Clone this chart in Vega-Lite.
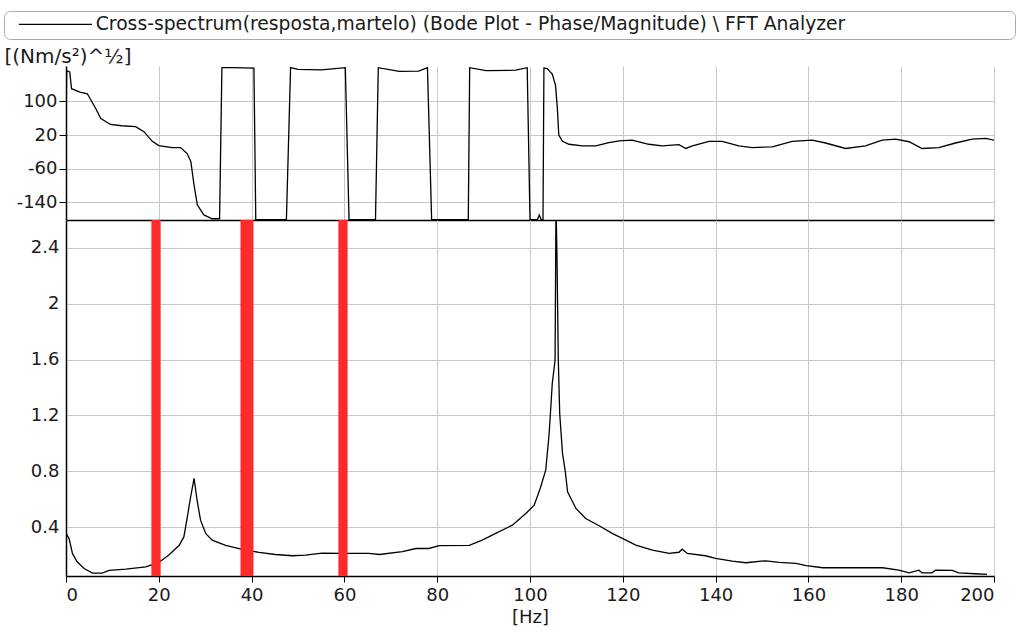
{
  "$schema": "https://vega.github.io/schema/vega-lite/v6.json",
  "padding": {"left": 3, "top": 10, "right": 2, "bottom": 4},
  "background": "white",
  "spacing": 0,
  "config": {
    "font": "DejaVu Sans",
    "view": {"stroke": null},
    "axis": {
      "labelFont": "DejaVu Sans",
      "titleFont": "DejaVu Sans",
      "labelFontSize": 18,
      "labelColor": "#1a1a1a",
      "titleColor": "#1a1a1a",
      "titleFontSize": 18,
      "titleFontWeight": "normal",
      "gridColor": "#c8c8c8",
      "gridWidth": 1,
      "domainColor": "#000000",
      "domainWidth": 1.5,
      "tickColor": "#000000"
    },
    "legend": {"labelFont": "DejaVu Sans"}
  },
  "datasets": {
    "phase": [
      {"hz": 0, "deg": 43}, {"hz": 0.15, "deg": 173}, {"hz": 0.8, "deg": 170}, {"hz": 1.2, "deg": 130},
      {"hz": 3, "deg": 122}, {"hz": 4.6, "deg": 118}, {"hz": 6.4, "deg": 83}, {"hz": 7.5, "deg": 59},
      {"hz": 9.6, "deg": 45}, {"hz": 12, "deg": 42}, {"hz": 15, "deg": 40}, {"hz": 16.8, "deg": 28},
      {"hz": 18.6, "deg": 5}, {"hz": 20, "deg": -5}, {"hz": 22.9, "deg": -10}, {"hz": 24.7, "deg": -10},
      {"hz": 26.1, "deg": -24}, {"hz": 26.9, "deg": -43}, {"hz": 27.6, "deg": -99}, {"hz": 28.3, "deg": -146},
      {"hz": 29.7, "deg": -170}, {"hz": 31.5, "deg": -179}, {"hz": 33.1, "deg": -179}, {"hz": 33.6, "deg": 180},
      {"hz": 36, "deg": 180}, {"hz": 40.5, "deg": 179}, {"hz": 40.9, "deg": -181}, {"hz": 47.5, "deg": -181},
      {"hz": 48.4, "deg": 180}, {"hz": 50, "deg": 176}, {"hz": 55, "deg": 175}, {"hz": 58, "deg": 178},
      {"hz": 60.2, "deg": 180}, {"hz": 61.0, "deg": -181}, {"hz": 66.7, "deg": -181}, {"hz": 67.3, "deg": 180},
      {"hz": 71.8, "deg": 171}, {"hz": 76, "deg": 172}, {"hz": 77.9, "deg": 180}, {"hz": 78.8, "deg": -181},
      {"hz": 86.7, "deg": -181}, {"hz": 87, "deg": 180}, {"hz": 90.5, "deg": 173}, {"hz": 96.9, "deg": 174},
      {"hz": 99.4, "deg": 180}, {"hz": 100, "deg": -181}, {"hz": 101.6, "deg": -181}, {"hz": 102, "deg": -170},
      {"hz": 102.4, "deg": -181}, {"hz": 102.8, "deg": -181}, {"hz": 103, "deg": 179}, {"hz": 103.7, "deg": 178},
      {"hz": 104.8, "deg": 165}, {"hz": 105.5, "deg": 138}, {"hz": 105.9, "deg": 83}, {"hz": 106.2, "deg": 20},
      {"hz": 107, "deg": 5}, {"hz": 108.4, "deg": -2}, {"hz": 111.3, "deg": -6}, {"hz": 114.2, "deg": -6},
      {"hz": 117, "deg": 2}, {"hz": 119.2, "deg": 6}, {"hz": 122, "deg": 8}, {"hz": 125.6, "deg": -2},
      {"hz": 128.5, "deg": -6}, {"hz": 132.1, "deg": -3}, {"hz": 133.6, "deg": -12}, {"hz": 135, "deg": -6},
      {"hz": 138.6, "deg": 5}, {"hz": 141.4, "deg": 5}, {"hz": 145, "deg": -6}, {"hz": 147.9, "deg": -10},
      {"hz": 152.2, "deg": -8}, {"hz": 156.5, "deg": 5}, {"hz": 160.8, "deg": 8}, {"hz": 163.7, "deg": 1},
      {"hz": 168, "deg": -12}, {"hz": 172.3, "deg": -6}, {"hz": 175.9, "deg": 8}, {"hz": 178.8, "deg": 10},
      {"hz": 181.7, "deg": 4}, {"hz": 184.5, "deg": -12}, {"hz": 188.1, "deg": -10}, {"hz": 191.7, "deg": 1},
      {"hz": 195.3, "deg": 10}, {"hz": 198.2, "deg": 12}, {"hz": 200, "deg": 8}
    ],
    "magnitude": [
      {"hz": 0, "mag": 0.355}, {"hz": 0.65, "mag": 0.32}, {"hz": 1.4, "mag": 0.21}, {"hz": 2.4, "mag": 0.152},
      {"hz": 3.9, "mag": 0.104}, {"hz": 5.7, "mag": 0.071}, {"hz": 7.8, "mag": 0.071}, {"hz": 9.3, "mag": 0.09},
      {"hz": 12.9, "mag": 0.099}, {"hz": 17.2, "mag": 0.116}, {"hz": 20, "mag": 0.147}, {"hz": 22.1, "mag": 0.199},
      {"hz": 24.4, "mag": 0.27}, {"hz": 25.4, "mag": 0.33}, {"hz": 26.1, "mag": 0.462}, {"hz": 26.8, "mag": 0.605},
      {"hz": 27.6, "mag": 0.749}, {"hz": 28.3, "mag": 0.582}, {"hz": 29, "mag": 0.45}, {"hz": 30.1, "mag": 0.355},
      {"hz": 31.5, "mag": 0.307}, {"hz": 34.4, "mag": 0.27}, {"hz": 38, "mag": 0.24}, {"hz": 41.6, "mag": 0.219},
      {"hz": 45.1, "mag": 0.204}, {"hz": 48.8, "mag": 0.195}, {"hz": 51.6, "mag": 0.2}, {"hz": 55.2, "mag": 0.214},
      {"hz": 59.5, "mag": 0.212}, {"hz": 63.1, "mag": 0.212}, {"hz": 65.3, "mag": 0.212}, {"hz": 67.5, "mag": 0.204},
      {"hz": 72.5, "mag": 0.224}, {"hz": 75.4, "mag": 0.247}, {"hz": 78.2, "mag": 0.247}, {"hz": 80.4, "mag": 0.267},
      {"hz": 86.9, "mag": 0.27}, {"hz": 89.7, "mag": 0.307}, {"hz": 92.6, "mag": 0.355}, {"hz": 96.2, "mag": 0.414},
      {"hz": 99.1, "mag": 0.498}, {"hz": 100.9, "mag": 0.557}, {"hz": 102.2, "mag": 0.677}, {"hz": 103.4, "mag": 0.81},
      {"hz": 104.1, "mag": 1.06}, {"hz": 104.4, "mag": 1.214}, {"hz": 104.8, "mag": 1.429}, {"hz": 105.4, "mag": 1.595},
      {"hz": 105.5, "mag": 2.12}, {"hz": 105.6, "mag": 2.7}, {"hz": 105.8, "mag": 2.38}, {"hz": 106.1, "mag": 1.595},
      {"hz": 106.4, "mag": 1.214}, {"hz": 107, "mag": 0.93}, {"hz": 107.6, "mag": 0.8}, {"hz": 108.1, "mag": 0.653},
      {"hz": 109.9, "mag": 0.534}, {"hz": 112, "mag": 0.462}, {"hz": 114.9, "mag": 0.41}, {"hz": 117.7, "mag": 0.355},
      {"hz": 119.9, "mag": 0.319}, {"hz": 122.8, "mag": 0.271}, {"hz": 126.4, "mag": 0.235}, {"hz": 130, "mag": 0.212},
      {"hz": 132.1, "mag": 0.22}, {"hz": 132.8, "mag": 0.242}, {"hz": 133.9, "mag": 0.212}, {"hz": 137.8, "mag": 0.195},
      {"hz": 140, "mag": 0.176}, {"hz": 143.6, "mag": 0.157}, {"hz": 146.5, "mag": 0.145}, {"hz": 150.8, "mag": 0.159},
      {"hz": 153.7, "mag": 0.148}, {"hz": 157.3, "mag": 0.141}, {"hz": 159.5, "mag": 0.124}, {"hz": 163.1, "mag": 0.109},
      {"hz": 176, "mag": 0.109}, {"hz": 179.5, "mag": 0.092}, {"hz": 181.7, "mag": 0.073}, {"hz": 183.8, "mag": 0.092},
      {"hz": 184.5, "mag": 0.073}, {"hz": 186.6, "mag": 0.073}, {"hz": 187.4, "mag": 0.092}, {"hz": 191, "mag": 0.09},
      {"hz": 192.4, "mag": 0.073}, {"hz": 196, "mag": 0.066}, {"hz": 198.5, "mag": 0.061}
    ],
    "bands": [
      {"start": 18.4, "end": 20.4},
      {"start": 37.6, "end": 40.4},
      {"start": 58.7, "end": 60.7}
    ]
  },
  "resolve": {"legend": {"color": "independent"}, "scale": {"color": "independent"}},
  "vconcat": [
    {
      "width": 928,
      "height": 154,
      "data": {"name": "phase"},
      "mark": {"type": "line", "strokeWidth": 1.3, "clip": true},
      "encoding": {
        "x": {
          "field": "hz", "type": "quantitative",
          "scale": {"domain": [0, 200], "nice": false, "zero": false},
          "axis": {"values": [0, 20, 40, 60, 80, 100, 120, 140, 160, 180, 200], "labels": false, "ticks": false, "title": null, "grid": true, "domain": true, "minExtent": 0, "maxExtent": 0}
        },
        "y": {
          "field": "deg", "type": "quantitative",
          "scale": {"domain": [-182, 184], "nice": false, "zero": false},
          "axis": {
            "values": [-140, -60, 20, 100], "labelExpr": "'' + datum.value",
            "tickSize": 7, "labelPadding": 2, "grid": true,
            "title": "[(Nm/s²)^½]", "titleFontSize": 20, "titleAngle": 0, "titleAlign": "left", "titleBaseline": "alphabetic",
            "titleX": -62, "titleY": -4
          }
        },
        "color": {
          "datum": "Cross-spectrum(resposta,martelo) (Bode Plot - Phase/Magnitude) \\ FFT Analyzer",
          "type": "nominal",
          "scale": {"range": ["#000000"]},
          "legend": {
            "orient": "none", "legendX": -62, "legendY": -55, "title": null,
            "symbolType": "M-7.3,0H7.3", "symbolSize": 100, "symbolStrokeWidth": 1.3,
            "symbolOffset": 38, "labelOffset": 31,
            "labelFontSize": 18.75, "labelColor": "#1a1a1a", "labelLimit": 1200,
            "labelExpr": "datum.label + '\u2800\u2800\u2800\u2800\u2800\u2800\u2800\u2800\u2800\u2800\u2800\u2800'",
            "strokeColor": "#a8a8a8", "fillColor": "#ffffff", "cornerRadius": 6, "padding": 4
          }
        }
      }
    },
    {
      "width": 928,
      "height": 356,
      "layer": [
        {
          "data": {"name": "magnitude"},
          "mark": {"type": "line", "color": "#000000", "strokeWidth": 1.3, "clip": true},
          "encoding": {
            "x": {
              "field": "hz", "type": "quantitative",
              "scale": {"domain": [0, 200], "nice": false, "zero": false},
              "axis": {"values": [0, 20, 40, 60, 80, 100, 120, 140, 160, 180, 200], "tickSize": 6, "labelPadding": 4, "grid": true, "title": "[Hz]", "titlePadding": 4}
            },
            "y": {
              "field": "mag", "type": "quantitative",
              "scale": {"domain": [0.05, 2.6], "nice": false, "zero": false},
              "axis": {"values": [0.4, 0.8, 1.2, 1.6, 2, 2.4], "labelExpr": "'' + datum.value", "ticks": false, "labelPadding": 7, "grid": true, "title": null}
            }
          }
        },
        {
          "data": {"name": "bands"},
          "mark": {"type": "rect", "color": "#ff2b2b", "opacity": 1},
          "encoding": {
            "x": {"field": "start", "type": "quantitative"},
            "x2": {"field": "end"}
          }
        }
      ]
    }
  ]
}
